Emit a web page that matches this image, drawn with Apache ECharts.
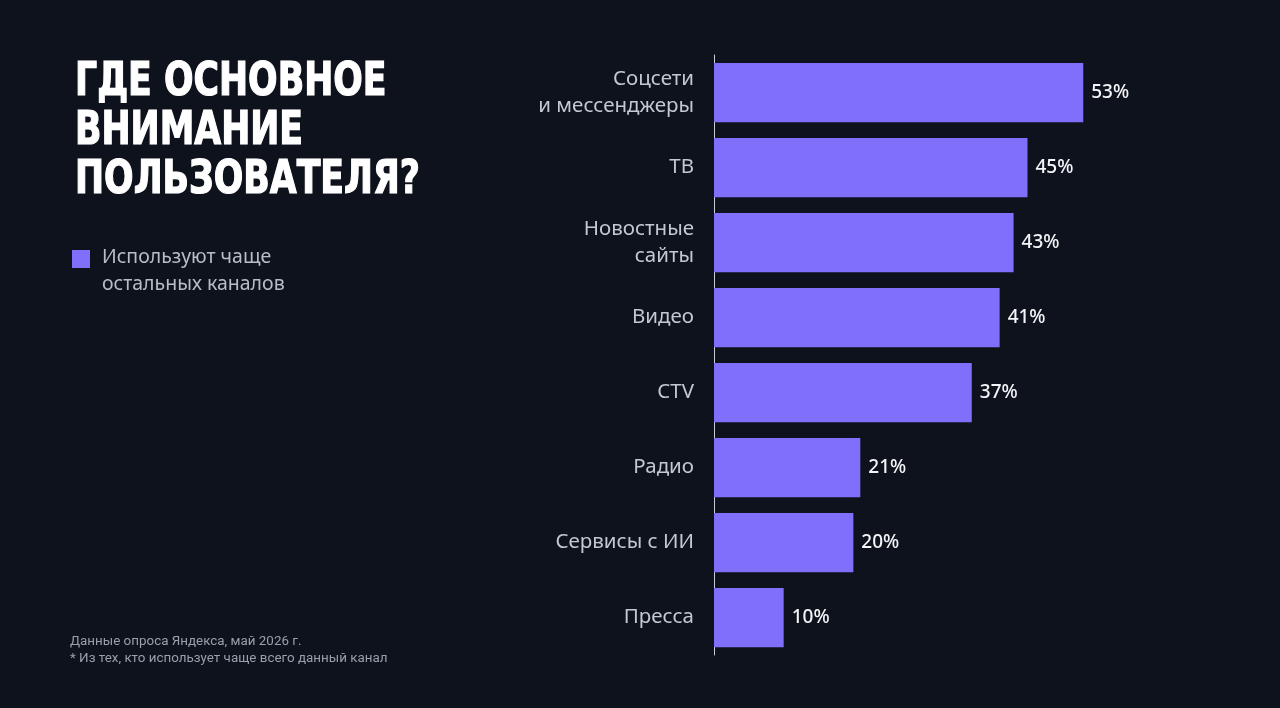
<!DOCTYPE html>
<html>
<head>
<meta charset="utf-8">
<script src="https://cdn.jsdelivr.net/npm/echarts@6/dist/echarts.min.js"></script>
<style>
html,body{margin:0;padding:0;background:#0e121c;}
#c{width:1280px;height:708px;}
</style>
</head>
<body>
<div id="c"></div>
<script>
const categories = ['Соцсети\nи мессенджеры', 'ТВ', 'Новостные\nсайты', 'Видео', 'CTV', 'Радио', 'Сервисы с ИИ', 'Пресса'];
const values = [53, 45, 43, 41, 37, 21, 20, 10];
const seriesName = 'Используют чаще\nостальных каналов';
const titleText = 'ГДЕ ОСНОВНОЕ\nВНИМАНИЕ\nПОЛЬЗОВАТЕЛЯ?';
const footnote = 'Данные опроса Яндекса, май 2026 г.\n* Из тех, кто использует чаще всего данный канал';

const chart = echarts.init(document.getElementById('c'));
chart.setOption({
  backgroundColor: '#0e121c',
  animation: false,
  grid: { left: 714, top: 55, bottom: 53, right: 148, containLabel: false },
  xAxis: { type: 'value', min: 0, max: 60, show: false },
  yAxis: {
    type: 'category', data: categories, inverse: true,
    axisLine: { show: true, lineStyle: { color: '#c8ccd6', width: 1 } },
    axisTick: { show: false },
    axisLabel: { color: '#c4c8d2', fontSize: 20.5, fontFamily: 'Noto Sans', margin: 20, lineHeight: 27, align: 'right', padding: [7, 0, 0, 0] }
  },
  legend: {
    left: 67, top: 215, icon: 'rect', itemWidth: 18, itemHeight: 18, itemGap: 10,
    selectedMode: false,
    formatter: function (name) {
      return '{s| }\n' + name.split('\n').map(function (l) { return '{t|' + l + '}'; }).join('\n');
    },
    textStyle: {
      color: '#b9bdc8', fontSize: 19, fontFamily: 'Noto Sans', lineHeight: 27,
      rich: {
        s: { fontSize: 19, lineHeight: 24 },
        t: { color: '#b9bdc8', fontSize: 19.5, fontFamily: 'Noto Sans', lineHeight: 27, padding: [0, 0, 0, 7] }
      }
    }
  },
  series: [{
    name: seriesName, type: 'bar', data: values,
    barCategoryGap: '21%',
    itemStyle: { color: '#7f6ffb' },
    label: { show: true, position: 'right', distance: 8, formatter: '{c}%', color: '#f4f5f8', fontSize: 19, fontWeight: 500, fontFamily: 'Noto Sans', padding: [7, 0, 0, 0] }
  }],
  graphic: [
    { type: 'text', x: 75, y: 59, scaleX: 0.84, style: { text: titleText, fill: '#ffffff', stroke: '#ffffff', lineWidth: 1.2, font: 'bold 46px "DejaVu Sans Condensed", sans-serif', lineHeight: 49, verticalAlign: 'top' } },
    { type: 'text', left: 70, top: 633, style: { text: footnote, fill: '#9a9fab', font: '13.4px Roboto, sans-serif', lineHeight: 17 } }
  ]
});
</script>
</body>
</html>
